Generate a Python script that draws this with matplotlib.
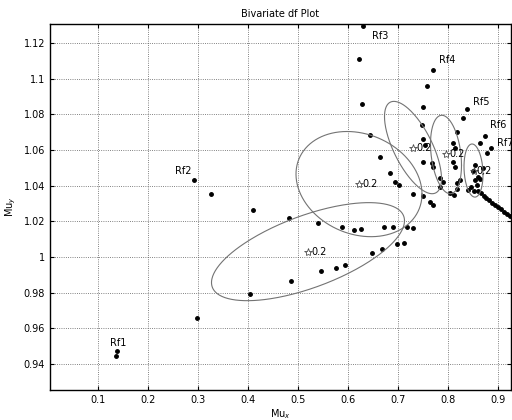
import numpy as np
import matplotlib
matplotlib.use("Agg")
import matplotlib.pyplot as plt

# trajectories (Mu_x, Mu_y)
rf1_x = [0.136, 0.137, 0.298, 0.404, 0.486, 0.546, 0.576, 0.594, 0.648, 0.668, 0.698, 0.712]
rf1_y = [0.9445, 0.9470, 0.9660, 0.9790, 0.9867, 0.9920, 0.9940, 0.9956, 1.0024, 1.0046, 1.0074, 1.0080]

rf2_x = [0.292, 0.326, 0.410, 0.482, 0.540, 0.588, 0.612, 0.626, 0.672, 0.690, 0.718, 0.730]
rf2_y = [1.0434, 1.0355, 1.0266, 1.0220, 1.0190, 1.0170, 1.0153, 1.0159, 1.0170, 1.0170, 1.0170, 1.0165]

rf3_x = [0.630, 0.622, 0.628, 0.644, 0.664, 0.684, 0.694, 0.702, 0.730, 0.750, 0.764, 0.770]
rf3_y = [1.1295, 1.1110, 1.0856, 1.0687, 1.0563, 1.0474, 1.0423, 1.0406, 1.0355, 1.0340, 1.0310, 1.0294]

rf4_x = [0.770, 0.758, 0.750, 0.748, 0.750, 0.754, 0.750, 0.768, 0.770, 0.784, 0.784, 0.790]
rf4_y = [1.1047, 1.0957, 1.0839, 1.0743, 1.0660, 1.0630, 1.0535, 1.0530, 1.0507, 1.0445, 1.0390, 1.0420]

rf5_x = [0.838, 0.830, 0.818, 0.810, 0.814, 0.810, 0.814, 0.824, 0.818, 0.804, 0.818, 0.812]
rf5_y = [1.0828, 1.0780, 1.0700, 1.0640, 1.0614, 1.0535, 1.0507, 1.0434, 1.0417, 1.0360, 1.0380, 1.0350]

rf6_x = [0.874, 0.864, 0.854, 0.850, 0.860, 0.854, 0.858, 0.846, 0.840, 0.852, 0.860, 0.866]
rf6_y = [1.0676, 1.0640, 1.0518, 1.0480, 1.0451, 1.0434, 1.0405, 1.0390, 1.0378, 1.0372, 1.0368, 1.0360]

rf7_x = [0.886, 0.878, 0.870, 0.864, 0.872, 0.876, 0.882, 0.888, 0.894, 0.900, 0.906, 0.912, 0.918, 0.924]
rf7_y = [1.0610, 1.0586, 1.0500, 1.0440, 1.0345, 1.0330, 1.0318, 1.0305, 1.0292, 1.0280, 1.0268, 1.0255, 1.0243, 1.0230]

series_names = ["Rf1", "Rf2", "Rf3", "Rf4", "Rf5", "Rf6", "Rf7"]

# 0.2 contours of the fitted bivariate densities
ell_cx = [0.520, 0.622, 0.730, 0.796, 0.851]
ell_cy = [1.0030, 1.0409, 1.0614, 1.0575, 1.0485]
ell_sx = [0.193, 0.126, 0.057, 0.031, 0.019]
ell_sy = [0.0275, 0.0295, 0.0259, 0.0220, 0.0149]
ell_rho = [0.63, -0.19, -0.67, -0.27, -0.15]
ell_level = ["0.2", "0.2", "0.2", "0.2", "0.2"]

x_ticks = [0.1, 0.2, 0.3, 0.4, 0.5, 0.6, 0.7, 0.8, 0.9]
y_ticks = [0.94, 0.96, 0.98, 1.0, 1.02, 1.04, 1.06, 1.08, 1.1, 1.12]
y_tick_labels = ["0.94", "0.96", "0.98", "1", "1.02", "1.04", "1.06", "1.08", "1.1", "1.12"]

# label offsets in pixels (dx, dy, ha)
label_offsets = [(2, 8, "center"), (-2, 4, "right"), (9, -15, "left"), (6, 5, "left"),
                 (6, 2, "left"), (5, 6, "left"), (6, 0, "left")]

fig = plt.figure(figsize=(5.12, 4.2), dpi=100)
ax = fig.add_axes([50 / 512, 30 / 420, 461 / 512, 366 / 420])

all_x = [rf1_x, rf2_x, rf3_x, rf4_x, rf5_x, rf6_x, rf7_x]
all_y = [rf1_y, rf2_y, rf3_y, rf4_y, rf5_y, rf6_y, rf7_y]
for name, xs, ys, (dx, dy, ha) in zip(series_names, all_x, all_y, label_offsets):
    ax.plot(xs, ys, ".", color="black", markersize=5, clip_on=False)
    ax.annotate(name, (xs[0], ys[0]), xytext=(dx, dy), textcoords="offset pixels",
                ha=ha, va="bottom", fontsize=7)

t = np.linspace(0, 2 * np.pi, 300)
for cx, cy, sx, sy, rho, lev in zip(ell_cx, ell_cy, ell_sx, ell_sy, ell_rho, ell_level):
    ex = cx + sx * np.cos(t)
    ey = cy + sy * (rho * np.cos(t) + np.sqrt(1 - rho ** 2) * np.sin(t))
    ax.plot(ex, ey, "-", color="0.45", linewidth=0.8)
    ax.plot(cx, cy, marker="*", markersize=6, markerfacecolor="none",
            markeredgecolor="0.3", markeredgewidth=0.6)
    ax.annotate(lev, (cx, cy), xytext=(3, 0), textcoords="offset pixels",
                ha="left", va="center", fontsize=7)

ax.set_xlim(0.004, 0.926)
ax.set_ylim(0.9254, 1.1307)
ax.set_xticks(x_ticks)
ax.set_xticklabels([f"{v:g}" for v in x_ticks])
ax.set_yticks(y_ticks)
ax.set_yticklabels(y_tick_labels)
ax.tick_params(direction="in", top=True, right=True, labelsize=7, length=3, width=0.8)
ax.grid(True, linestyle=":", color="0.35", linewidth=0.6)
for s in ax.spines.values():
    s.set_linewidth(1.0)

ax.set_title("Bivariate df Plot", fontsize=7, pad=5)
ax.set_xlabel("Mu$_x$", fontsize=7, labelpad=2)
ax.set_ylabel("Mu$_y$", fontsize=7, labelpad=4)

fig.savefig("out.png", dpi=100)
